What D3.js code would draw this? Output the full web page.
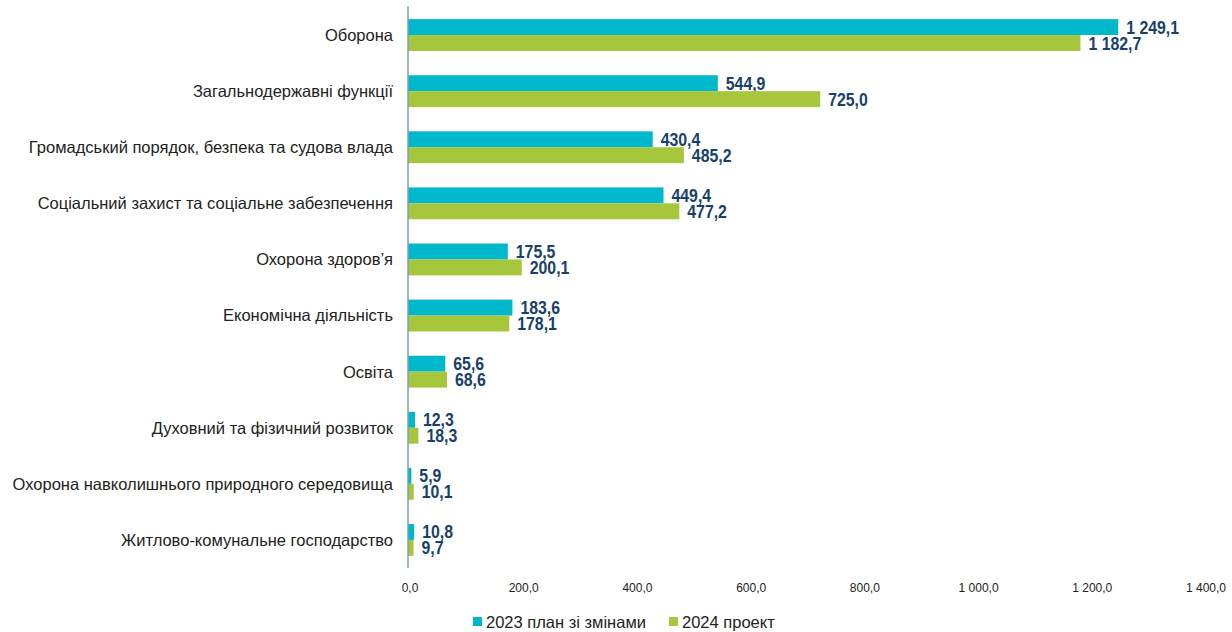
<!DOCTYPE html>
<html>
<head>
<meta charset="utf-8">
<script src="https://cdn.jsdelivr.net/npm/d3@7"></script>
<style>
  body { margin: 0; background: #fff; }
  svg { display: block; }
</style>
</head>
<body>
<div id="chart"></div>
<script>
// chart data
const categories = [
    "Оборона",
    "Загальнодержавні функції",
    "Громадський порядок, безпека та судова влада",
    "Соціальний захист та соціальне забезпечення",
    "Охорона здоров’я",
    "Економічна діяльність",
    "Освіта",
    "Духовний та фізичний розвиток",
    "Охорона навколишнього природного середовища",
    "Житлово-комунальне господарство"
];
const plan2023 = [1249.1, 544.9, 430.4, 449.4, 175.5, 183.6, 65.6, 12.3, 5.9, 10.8];
const draft2024 = [1182.7, 725.0, 485.2, 477.2, 200.1, 178.1, 68.6, 18.3, 10.1, 9.7];
const seriesNames = ["2023 план зі змінами", "2024 проект"];
const xTicks = [0, 200, 400, 600, 800, 1000, 1200, 1400];

const colors = ["#00B8CC", "#A6C63B"];
const labelColor = "#17416B";

var w = 1232, h = 632;
var margin = { top: 7, right: 28, bottom: 64, left: 408 };

var svg = d3.select("#chart")
    .append("svg")
    .attr("width", w)
    .attr("height", h);

// number formatting: space thousands, comma decimal
const fmt = v => {
    let s = v.toFixed(1).replace(".", ",");
    let [a, b] = s.split(",");
    a = a.replace(/\B(?=(\d{3})+(?!\d))/g, " ");
    return a + "," + b;
};

var x = d3.scaleLinear()
    .domain([0, 1400])
    .range([margin.left, w - margin.right]);

var y = d3.scaleBand()
    .domain(categories)
    .range([margin.top, 568])
    .paddingInner(0)
    .paddingOuter(0);

var sub = d3.scaleBand()
    .domain([0, 1])
    .range([0, y.bandwidth()])
    .paddingInner(0)
    .paddingOuter(0.76);

var rows = svg.selectAll("g.row")
    .data(categories)
    .join("g")
    .attr("class", "row")
    .attr("transform", d => `translate(0, ${y(d)})`);

[plan2023, draft2024].forEach((vals, si) => {
    rows.append("rect")
        .attr("x", x(0))
        .attr("y", sub(si))
        .attr("width", (d, i) => x(vals[i]) - x(0))
        .attr("height", sub.bandwidth())
        .attr("fill", colors[si]);

    // condensed bold value labels
    rows.append("text")
        .attr("transform", (d, i) =>
            `translate(${x(vals[i]) + 8}, ${sub(si) + sub.bandwidth() / 2}) scale(0.88, 1)`)
        .attr("dy", "0.36em")
        .style("font-family", "'Liberation Sans', Arial, sans-serif")
        .style("font-weight", "bold")
        .style("font-size", "18px")
        .attr("fill", labelColor)
        .text((d, i) => fmt(vals[i]));
});

// category labels
rows.append("text")
    .attr("x", x(0) - 15)
    .attr("y", y.bandwidth() / 2)
    .attr("dy", "0.36em")
    .attr("text-anchor", "end")
    .style("font-family", "'Liberation Sans', Arial, sans-serif")
    .style("font-size", "16.5px")
    .attr("fill", "#222")
    .text(d => d);

// vertical axis line
svg.append("line")
    .attr("x1", x(0)).attr("x2", x(0))
    .attr("y1", 6).attr("y2", 568)
    .attr("stroke", "#7F9DB9")
    .attr("stroke-width", 1.5);

// x tick labels
svg.append("g")
    .selectAll("text")
    .data(xTicks)
    .join("text")
    .attr("x", d => x(d) + 2)
    .attr("y", 592)
    .attr("text-anchor", "middle")
    .style("font-family", "'Liberation Sans', Arial, sans-serif")
    .style("font-size", "12px")
    .attr("fill", "#222")
    .text(d => fmt(d));

// legend
var legend = svg.append("g").attr("transform", "translate(473, 622)");
var legendX = [0, 196];
seriesNames.forEach((name, i) => {
    legend.append("rect")
        .attr("x", legendX[i])
        .attr("y", -5)
        .attr("width", 9)
        .attr("height", 9)
        .attr("fill", colors[i]);
    legend.append("text")
        .attr("x", legendX[i] + 13)
        .attr("y", 0)
        .attr("dy", "0.36em")
        .style("font-family", "'Liberation Sans', Arial, sans-serif")
        .style("font-size", "16.5px")
        .attr("fill", "#222")
        .text(name);
});
</script>
</body>
</html>
